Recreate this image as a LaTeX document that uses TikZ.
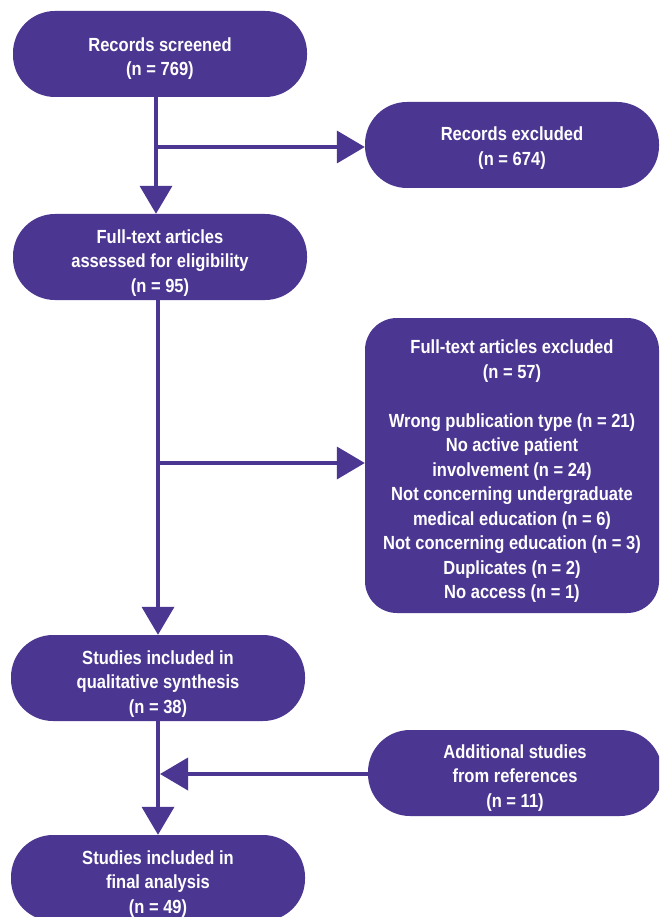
\documentclass[tikz,border=0pt]{standalone}
\usepackage{fontspec}
\setmainfont{Liberation Sans}[FakeStretch=0.87]
\usetikzlibrary{arrows.meta}
\definecolor{prp}{HTML}{4B3691}
\newcommand{\tpstrut}{\rule{0pt}{25pt}}
\begin{document}
\begin{tikzpicture}[x=1pt,y=-1pt,
  box/.style={fill=prp,text=white,draw=none,align=center,inner sep=0pt,
    font=\fontsize{19}{24.5}\selectfont\bfseries},
  pill/.style={box,minimum width=294pt,minimum height=86pt,rounded corners=42pt},
  tallbox/.style={box,minimum width=294pt,minimum height=295pt,rounded corners=32pt},
  conn/.style={draw=prp,line width=3.8pt},
  arr/.style={conn,-{Triangle[width=32pt,length=28pt]}}]
\clip (0,0) rectangle (659,917);
\fill[white] (0,0) rectangle (659,917);
\node[pill] (scr) at (160,54) {\rule{0pt}{23pt}Records screened\\(n = 769)};
\node[pill] (exc1) at (512,145) {\rule{0pt}{20pt}Records excluded\\(n = 674)};
\node[pill] (ass) at (160,257) {\tpstrut Full-text articles\\assessed for eligibility\\(n = 95)};
\node[tallbox] (exc2) at (512,465.5) {\tpstrut Full-text articles excluded\\(n = 57)\\[24.5pt]Wrong publication type (n = 21)\\No active patient\\involvement (n = 24)\\Not concerning undergraduate\\medical education (n = 6)\\Not concerning education (n = 3)\\Duplicates (n = 2)\\No access (n = 1)};
\node[pill] (qual) at (158,678) {\tpstrut Studies included in\\qualitative synthesis\\(n = 38)};
\node[pill] (add) at (515,773) {\rule{0pt}{23pt}Additional studies\\from references\\(n = 11)};
\node[pill] (fin) at (158,878) {\tpstrut Studies included in\\final analysis\\(n = 49)};
\coordinate (b1) at (156,147);
\coordinate (b2) at (158,463);
\coordinate (b3) at (160,774);
\draw[arr] (scr.south -| b1) -- (ass.north -| b1);
\draw[arr] (b1) -- (b1 -| exc1.west);
\draw[arr] (ass.south -| b2) -- (qual.north -| b2);
\draw[arr] (b2) -- (b2 -| exc2.west);
\draw[arr] (qual.south) -- (fin.north);
\draw[arr] (add.west |- b3) -- (b3);
\end{tikzpicture}
\end{document}
